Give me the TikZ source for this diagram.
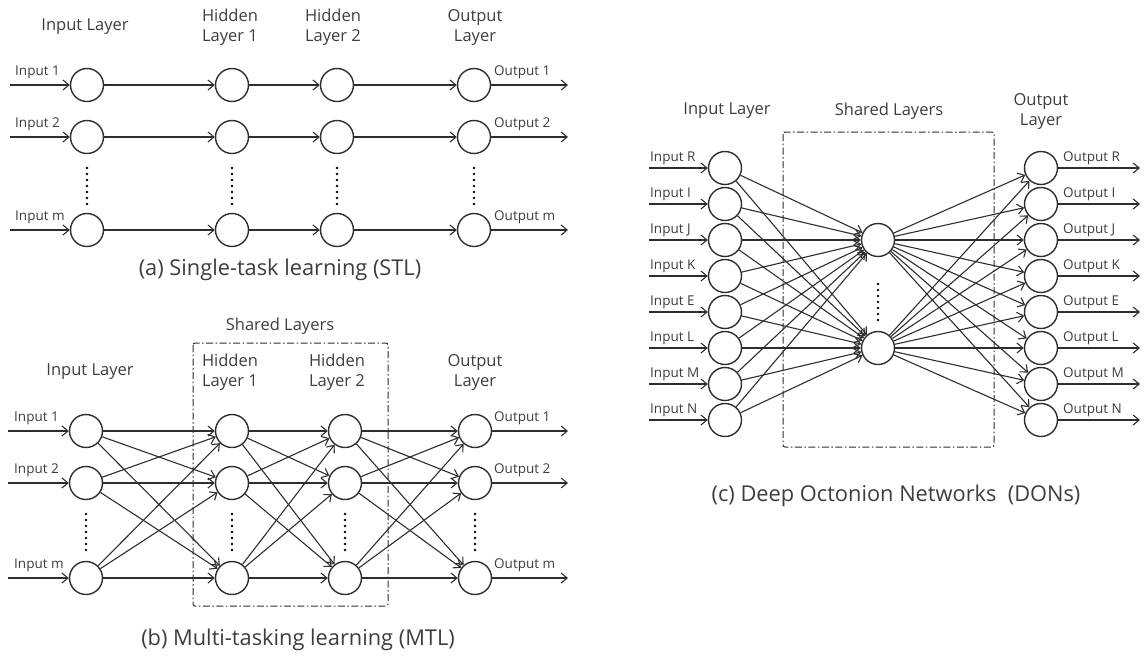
\documentclass[tikz,border=0pt]{standalone}
\usepackage{fontspec}
\setmainfont{Open Sans}
\usetikzlibrary{arrows.meta}
\definecolor{net ink}{rgb}{0.18, 0.18, 0.18}
\definecolor{net text}{rgb}{0.24, 0.24, 0.24}
\tikzset{
	neuron/.style = {circle, draw = net ink, line width = 1.4pt, minimum size = 33pt, inner sep = 0pt},
	link/.style = {draw = net ink, line width = 1.1pt, -{Straight Barb[length = 6pt, width = 10pt]}},
	layer/.style = {text = net text, align = center, font = \fontsize{16.5}{20}\selectfont},
	io/.style = {text = net text, inner sep = 0pt, font = \fontsize{13.5}{15}\selectfont},
	caption/.style = {text = net text, font = \fontsize{21.8}{26}\selectfont},
	vdots/.style = {draw = black, line width = 2.8pt, line cap = round, dash pattern = on 0pt off 6pt},
	shared/.style = {draw = net ink, line width = 1pt, rounded corners = 2pt,
		dash pattern = on 7pt off 2.5pt on 1.5pt off 2.5pt}
}

\begin{document}
\begin{tikzpicture}[x = 1pt, y = -1pt]
			\useasboundingbox (0, 0) rectangle (1144, 657);
			% (a) single-task learning
			\begin{scope}
				\node[layer] (a-t-in) at (85, 27) {Input Layer};
				\node[layer] (a-t-h1) at (230, 27) {Hidden\\Layer 1};
				\node[layer] (a-t-h2) at (333, 27) {Hidden\\Layer 2};
				\node[layer] (a-t-out) at (475, 27) {Output\\Layer};
				\foreach \r/\y in {1/85, 2/137, m/230} {
					\foreach \c/\x in {in/87, h1/232, h2/337, out/474}
						\node[neuron] (a-\c-\r) at (\x, \y) {};
					\coordinate (a-src-\r) at (10, \y);
					\coordinate (a-dst-\r) at (568, \y);
					\node[io, anchor = base west] (a-il-\r) at (15, \y - 10) {Input \r};
					\node[io, anchor = base west] (a-ol-\r) at (494, \y - 10) {Output \r};
					\draw[link] (a-src-\r) -- (a-in-\r);
					\draw[link] (a-in-\r) -- (a-h1-\r);
					\draw[link] (a-h1-\r) -- (a-h2-\r);
					\draw[link] (a-h2-\r) -- (a-out-\r);
					\draw[link] (a-out-\r) -- (a-dst-\r);
				}
				\foreach \x in {87, 232, 337, 474}
					\draw[vdots] (\x, 168) -- (\x, 206);
				\node[caption] (a-cap) at (280, 270) {(a) Single-task learning (STL)};
			\end{scope}
			% (b) multi-tasking learning
			\begin{scope}
				\draw[shared] (193, 343) rectangle (388, 606);
				\node[layer] (b-t-sh) at (280, 326) {Shared Layers};
				\node[layer] (b-t-in) at (90, 372) {Input Layer};
				\node[layer] (b-t-h1) at (230, 372) {Hidden\\Layer 1};
				\node[layer] (b-t-h2) at (337, 372) {Hidden\\Layer 2};
				\node[layer] (b-t-out) at (475, 372) {Output\\Layer};
				\foreach \r/\y in {1/431, 2/483, m/578} {
					\foreach \c/\x in {in/86, h1/232, h2/345, out/475}
						\node[neuron] (b-\c-\r) at (\x, \y) {};
					\coordinate (b-src-\r) at (8, \y);
					\coordinate (b-dst-\r) at (568, \y);
					\node[io, anchor = base west] (b-il-\r) at (14, \y - 10) {Input \r};
					\node[io, anchor = base west] (b-ol-\r) at (494, \y - 10) {Output \r};
					\draw[link] (b-src-\r) -- (b-in-\r);
					\draw[link] (b-out-\r) -- (b-dst-\r);
				}
				\foreach \a/\b in {in/h1, h1/h2, h2/out}
					\foreach \r in {1, 2, m}
						\foreach \s in {1, 2, m}
							\draw[link] (b-\a-\r) -- (b-\b-\s);
				\foreach \x in {86, 232, 345, 475}
					\draw[vdots] (\x, 514) -- (\x, 552);
				\node[caption] (b-cap) at (298, 640) {(b) Multi-tasking learning (MTL)};
			\end{scope}
			% (c) deep octonion networks
			\begin{scope}
				\draw[shared] (783, 132) rectangle (994, 447);
				\node[layer] (c-t-in) at (727, 111) {Input Layer};
				\node[layer] (c-t-sh) at (889, 111) {Shared Layers};
				\node[layer] (c-t-out) at (1041, 111) {Output\\Layer};
				\node[neuron] (c-sh-1) at (878, 240) {};
				\node[neuron] (c-sh-2) at (878, 348) {};
				\draw[vdots] (878, 284) -- (878, 322);
				\foreach \r/\y in {R/168, I/204, J/240, K/276, E/312, L/348, M/384, N/420} {
					\node[neuron] (c-in-\r) at (725, \y) {};
					\node[neuron] (c-out-\r) at (1041, \y) {};
					\coordinate (c-src-\r) at (649, \y);
					\coordinate (c-dst-\r) at (1140, \y);
					\node[io, anchor = base west] (c-il-\r) at (650, \y - 7) {Input \r};
					\node[io, anchor = base west] (c-ol-\r) at (1063, \y - 7) {Output \r};
					\draw[link] (c-src-\r) -- (c-in-\r);
					\draw[link] (c-out-\r) -- (c-dst-\r);
					\foreach \s in {1, 2} {
						\draw[link] (c-in-\r) -- (c-sh-\s);
						\draw[link] (c-sh-\s) -- (c-out-\r);
					}
				}
				\node[caption] (c-cap) at (896, 496) {(c) Deep Octonion Networks~ (DONs)};
			\end{scope}
		\end{tikzpicture}
\end{document}
